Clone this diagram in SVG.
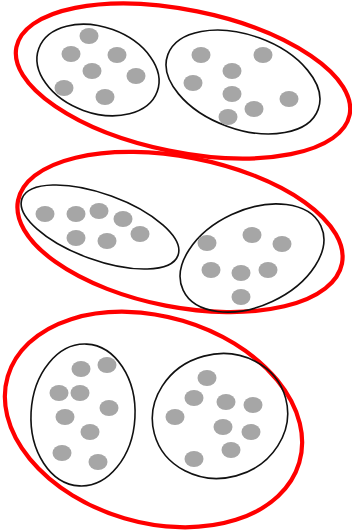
<svg xmlns="http://www.w3.org/2000/svg" width="352" height="530" viewBox="0 0 352 530">
<style>
.grp{fill:none;stroke:#ff0000;stroke-width:4.2}
.set{fill:none;stroke:#111;stroke-width:1.6}
.dot{fill:#a6a6a6}
</style>
<defs><ellipse id="d" rx="9.5" ry="8" class="dot"/></defs>
<rect width="352" height="530" fill="#fff"/>
<g id="group1">
<ellipse class="grp" cx="183" cy="81" rx="170" ry="71" transform="rotate(11.5 183 81)"/>
<g id="set1">
<ellipse class="set" cx="98" cy="70" rx="63" ry="43" transform="rotate(20 98 70)"/>
<use href="#d" x="89" y="36"/><use href="#d" x="71" y="54"/><use href="#d" x="117" y="55"/><use href="#d" x="92" y="71"/><use href="#d" x="136" y="76"/><use href="#d" x="64" y="88"/><use href="#d" x="105" y="97"/>
</g>
<g id="set2">
<ellipse class="set" cx="243" cy="82" rx="80" ry="47" transform="rotate(20 243 82)"/>
<use href="#d" x="201" y="55"/><use href="#d" x="263" y="55"/><use href="#d" x="232" y="71"/><use href="#d" x="193" y="83"/><use href="#d" x="232" y="94"/><use href="#d" x="289" y="99"/><use href="#d" x="254" y="109"/><use href="#d" x="228" y="117"/>
</g>
</g>
<g id="group2">
<ellipse class="grp" cx="180" cy="232" rx="165" ry="75" transform="rotate(11 180 232)"/>
<g id="set3">
<ellipse class="set" cx="100" cy="227" rx="83" ry="33" transform="rotate(20 100 227)"/>
<use href="#d" x="45" y="214"/><use href="#d" x="76" y="214"/><use href="#d" x="99" y="211"/><use href="#d" x="123" y="219"/><use href="#d" x="140" y="234"/><use href="#d" x="76" y="238"/><use href="#d" x="107" y="241"/>
</g>
<g id="set4">
<ellipse class="set" cx="252" cy="258" rx="76" ry="48" transform="rotate(-25 252 258)"/>
<use href="#d" x="207" y="243"/><use href="#d" x="252" y="235"/><use href="#d" x="282" y="244"/><use href="#d" x="211" y="270"/><use href="#d" x="241" y="273"/><use href="#d" x="268" y="270"/><use href="#d" x="241" y="297"/>
</g>
</g>
<g id="group3">
<ellipse class="grp" cx="153.5" cy="419.5" rx="152" ry="103" transform="rotate(16.5 153.5 419.5)"/>
<g id="set5">
<ellipse class="set" cx="83" cy="415" rx="52" ry="71" transform="rotate(3 83 415)"/>
<use href="#d" x="81" y="369"/><use href="#d" x="107" y="365"/><use href="#d" x="59" y="393"/><use href="#d" x="80" y="393"/><use href="#d" x="109" y="408"/><use href="#d" x="65" y="417"/><use href="#d" x="90" y="432"/><use href="#d" x="62" y="453"/><use href="#d" x="98" y="462"/>
</g>
<g id="set6">
<ellipse class="set" cx="220" cy="416" rx="68" ry="62" transform="rotate(-15 220 416)"/>
<use href="#d" x="207" y="378"/><use href="#d" x="194" y="398"/><use href="#d" x="226" y="402"/><use href="#d" x="253" y="405"/><use href="#d" x="175" y="417"/><use href="#d" x="223" y="427"/><use href="#d" x="251" y="432"/><use href="#d" x="231" y="450"/><use href="#d" x="194" y="459"/>
</g>
</g>
</svg>
